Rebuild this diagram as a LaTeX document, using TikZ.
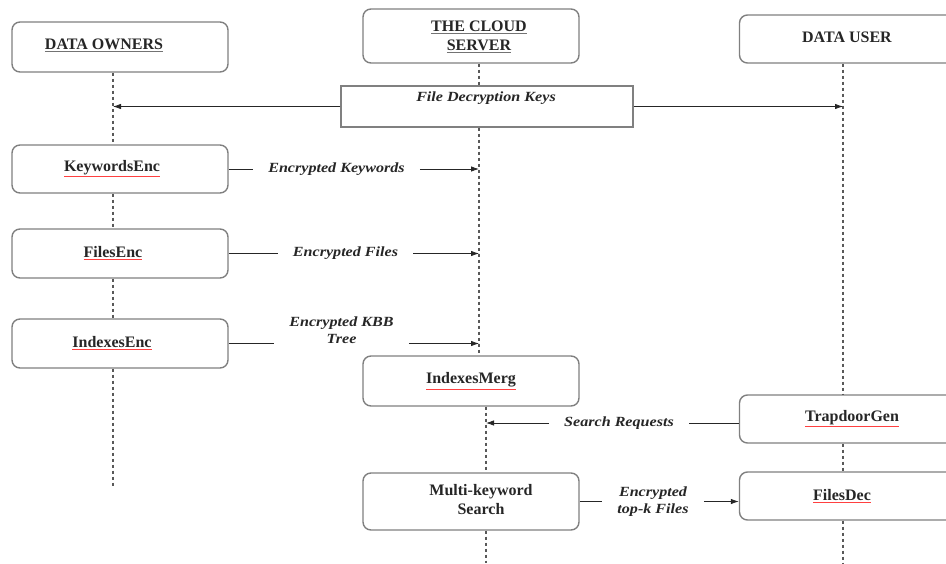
\documentclass[tikz,border=0pt]{standalone}
\usepackage{fontspec}
\setmainfont{Liberation Serif}
\newfontfamily\lblfont[FakeStretch=1.15]{Liberation Serif}
\usetikzlibrary{arrows.meta}
\newcommand{\spl}[1]{\textcolor{red!75}{\underline{\textcolor{black!85}{#1}}}}
\newcommand{\gul}[1]{\textcolor{black!55}{\underline{\textcolor{black!85}{#1}}}}
\tikzset{
  box/.style={draw=black!50, line width=1.4pt, rounded corners=8pt, minimum width=216pt, inner sep=0pt},
  btxt/.style={font=\fontsize{16}{19}\selectfont\bfseries, text=black!85, align=center, inner sep=0pt},
  lbl/.style={font=\lblfont\fontsize{14}{17}\selectfont\bfseries\itshape, text=black!85, align=center, inner xsep=15pt, inner ysep=1pt},
  life/.style={draw=black!65, line width=1.8pt, dash pattern=on 3pt off 3pt},
  msg/.style={draw=black!85, line width=0.8pt},
  arr/.style={msg, -{Latex[length=8pt,width=5.5pt]}}
}
\begin{document}
\begin{tikzpicture}[x=1pt,y=-1pt]
\useasboundingbox (0,0) rectangle (946,563);
% lifeline x positions
\coordinate (oL) at (113,0);
\coordinate (cL) at (479,0);
\coordinate (cLb) at (486,0);
\coordinate (uL) at (843,0);
\coordinate (oEnd) at (113,488);
\coordinate (cEnd) at (486,563);
\coordinate (uEnd) at (843,563);

% data owners column
\node[box, minimum height=50pt] (own) at (120,47) {};
\node[btxt] (ownT) at (104,45) {\gul{DATA OWNERS}};
\node[box, minimum height=48pt] (kw) at (120,169) {};
\node[btxt] (kwT) at (112,169) {\spl{KeywordsEnc}};
\node[box, minimum height=49pt] (fi) at (120,253.5) {};
\node[btxt] (fiT) at (113,253) {\spl{FilesEnc}};
\node[box, minimum height=49pt] (in) at (120,343.5) {};
\node[btxt] (inT) at (112,343) {\spl{IndexesEnc}};

% cloud server column
\node[box, minimum height=54pt] (cloud) at (471,36) {};
\node[btxt] (cloudT) at (479,37) {\gul{THE CLOUD}\\\gul{SERVER}};
\node[box, minimum height=50pt] (im) at (471,381) {};
\node[btxt] (imT) at (471,381) {\spl{IndexesMerg}};
\node[box, minimum height=57pt] (mk) at (471,501.5) {};
\node[btxt] (mkT) at (481,500) {Multi-keyword\\Search};

% data user column
\node[box, minimum height=48pt] (user) at (847.5,39) {};
\node[btxt] (userT) at (847,37) {DATA USER};
\node[box, minimum height=48pt] (trap) at (847.5,419) {};
\node[btxt] (trT) at (852,419) {\spl{TrapdoorGen}};
\node[box, minimum height=48pt] (fd) at (847.5,496) {};
\node[btxt] (fdT) at (842,496) {\spl{FilesDec}};

% decryption keys box
\node[draw=black!50, line width=1.4pt, minimum width=292pt, minimum height=41pt, inner sep=0pt] (dec) at (487,106.5) {};
\node[lbl, inner xsep=0pt] (decT) at (486,98) {File Decryption Keys};

% lifelines
\draw[life] (own.south -| oL) -- (kw.north -| oL);
\draw[life] (kw.south -| oL) -- (fi.north -| oL);
\draw[life] (fi.south -| oL) -- (in.north -| oL);
\draw[life] (in.south -| oL) -- (oEnd);
\draw[life] (cloud.south -| cL) -- (dec.north -| cL);
\draw[life] (dec.south -| cL) -- (im.north -| cL);
\draw[life] (im.south -| cLb) -- (mk.north -| cLb);
\draw[life] (mk.south -| cLb) -- (cEnd);
\draw[life] (user.south -| uL) -- (trap.north -| uL);
\draw[life] (trap.south -| uL) -- (fd.north -| uL);
\draw[life] (fd.south -| uL) -- (uEnd);

% messages
\draw[arr] (dec.west) -- (dec.west -| oL);
\draw[arr] (dec.east) -- (dec.east -| uL);

\node[lbl] (kwL) at (336.5,169) {Encrypted Keywords};
\draw[msg] (kw.east) -- (kwL.west);
\draw[arr] (kwL.east) -- (kwL.east -| cL);

\node[lbl] (fiL) at (345.5,253.5) {Encrypted Files};
\draw[msg] (fi.east) -- (fiL.west);
\draw[arr] (fiL.east) -- (fiL.east -| cL);

\node[lbl] (inL) at (341.5,330) {Encrypted KBB\\Tree};
\draw[msg] (in.east) -- (in.east -| inL.west);
\draw[arr] (in.east -| inL.east) -- (in.east -| cL);

\node[lbl] (srL) at (619,423) {Search Requests};
\draw[msg] (trap.west |- srL) -- (srL.east);
\draw[arr] (srL.west) -- (srL.west -| cLb);

\node[lbl] (tkL) at (653,501.5) {Encrypted\\top-k Files};
\draw[msg] (mk.east) -- (tkL.west);
\draw[arr] (tkL.east) -- (tkL.east -| fd.west);
\end{tikzpicture}
\end{document}
